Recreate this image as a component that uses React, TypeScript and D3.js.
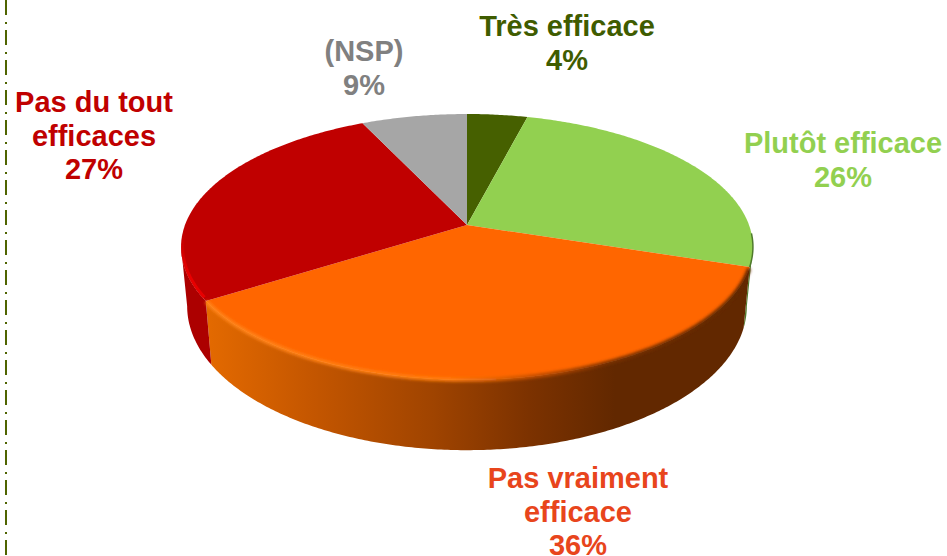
import React from "react";
import * as d3 from "d3";

const categories = ["Très efficace", "Plutôt efficace", "Pas vraiment efficace", "Pas du tout efficaces", "(NSP)"];
// printed labels; the NSP slice is drawn smaller than its printed 9%
const printedValues = [4, 26, 36, 27, 9];
const sliceValues = [4, 26, 36, 27, 7];
const labelLines = [["Très efficace"], ["Plutôt efficace"], ["Pas vraiment", "efficace"], ["Pas du tout", "efficaces"], ["(NSP)"]];
const faceColors = ["#466000", "#92d050", "#ff6600", "#c00000", "#a6a6a6"];
const wallColors = ["#2c3c00", "#4f7a2c", "url(#orangeWall)", "#ac0000", "#707070"];
const textColors = ["#3f5c00", "#92d050", "#e8451c", "#c00000", "#808080"];

const width = 947;
const height = 556;
const labelPos = [
  { x: 567, y: 36 },
  { x: 843, y: 153 },
  { x: 578, y: 488 },
  { x: 94, y: 112 },
  { x: 364, y: 61 },
];
const apex: [number, number] = [467, 225];

// perspective disc: far side squeezed, near side stretched
const persp = 0.165;
const makeProjection = (cx: number, cy: number, rx: number, ry: number) => (angle: number): [number, number] => {
  const u = Math.sin(angle);
  const v = -Math.cos(angle);
  const w = 1 - persp * v;
  return [cx + (rx * u) / w, cy + (ry * v) / w];
};
const topDisc = makeProjection(apex[0], apex[1], 282, 129.3);
const bottomDisc = makeProjection(467, 282.5, 276, 140);

// angles where the disc is widest, the wall is only seen between them
const silhouette = Math.acos(-persp);
const frontStart = silhouette;
const frontEnd = 2 * Math.PI - silhouette;

const arcAngles = (a0: number, a1: number) => {
  const n = Math.max(2, Math.ceil((a1 - a0) / 0.01));
  return d3.range(n + 1).map((i) => a0 + ((a1 - a0) * i) / n);
};

const line = d3.line();
const pie = d3.pie<number>().sort(null).value((d) => d);
const slices = pie(sliceValues);

const App = () => {
  const orange = slices[2];
  const red = slices[3];
  const green = slices[1];
  return (
    <svg width={width} height={height} style={{ position: "absolute", left: 0, top: 0, background: "#fff" }}>
      <defs>
        <linearGradient id="orangeWall" gradientUnits="userSpaceOnUse" x1={205} x2={745} y1={0} y2={0}>
          <stop offset="0" stopColor="#e46a00" />
          <stop offset="0.2" stopColor="#c45600" />
          <stop offset="0.42" stopColor="#a04400" />
          <stop offset="0.6" stopColor="#7c3200" />
          <stop offset="0.76" stopColor="#622800" />
          <stop offset="1" stopColor="#622800" />
        </linearGradient>
        <linearGradient id="orangeRim" gradientUnits="userSpaceOnUse" x1={205} x2={745} y1={0} y2={0}>
          <stop offset="0" stopColor="#ff8418" />
          <stop offset="0.45" stopColor="#ff7e10" />
          <stop offset="0.6" stopColor="#c85000" />
          <stop offset="0.75" stopColor="#7a3000" />
          <stop offset="1" stopColor="#622800" />
        </linearGradient>
        <linearGradient id="redRim" gradientUnits="userSpaceOnUse" x1={0} x2={0} y1={232} y2={275}>
          <stop offset="0" stopColor="#e80000" stopOpacity={0} />
          <stop offset="1" stopColor="#e80000" />
        </linearGradient>
        <filter id="soft" x="-5%" y="-20%" width="110%" height="140%">
          <feGaussianBlur stdDeviation="1.6" />
        </filter>
        <filter id="edge" x="-20%" y="-5%" width="140%" height="110%">
          <feGaussianBlur stdDeviation="0.6" />
        </filter>
        <clipPath id="faceClip">
          <path d={line(arcAngles(0, 2 * Math.PI).map(topDisc)) + "Z"} />
        </clipPath>
      </defs>

      <line x1={6} x2={6} y1={0} y2={height} stroke="#4f6400" strokeWidth={2} strokeDasharray="15 7 2 6" />

      {slices.map((s, i) => {
        const a0 = Math.max(s.startAngle, frontStart);
        const a1 = Math.min(s.endAngle, frontEnd);
        if (a1 <= a0) return null;
        const angles = arcAngles(a0, a1);
        const pts = [...angles.map(topDisc), ...angles.slice().reverse().map(bottomDisc)];
        return <path key={i} d={line(pts) + "Z"} fill={wallColors[i]} />;
      })}

      {slices.map((s, i) => {
        const pts = [apex, ...arcAngles(s.startAngle, s.endAngle).map(topDisc)];
        return <path key={i} d={line(pts) + "Z"} fill={faceColors[i]} />;
      })}

      {/* bevel along the front rim */}
      <path
        d={line(arcAngles(orange.startAngle + 0.01, orange.endAngle - 0.005).map(topDisc)) as string}
        fill="none"
        stroke="url(#orangeRim)"
        strokeWidth={4}
        filter="url(#soft)"
      />
      <g clipPath="url(#faceClip)">
        <path
          d={line(arcAngles(red.startAngle + 0.02, red.startAngle + 0.5).map(topDisc)) as string}
          fill="none"
          stroke="url(#redRim)"
          strokeWidth={6}
          filter="url(#edge)"
        />
      </g>
      <path
        d={line(arcAngles(green.endAngle - 0.25, green.endAngle).map(topDisc)) as string}
        fill="none"
        stroke="#4f7a2c"
        strokeWidth={1.5}
        filter="url(#edge)"
      />

      {categories.map((c, i) => (
        <text
          key={c}
          textAnchor="middle"
          fontFamily="'Liberation Sans', Arial, sans-serif"
          fontWeight="bold"
          fontSize={29}
          fill={textColors[i]}
        >
          {[...labelLines[i], `${printedValues[i]}%`].map((t, j) => (
            <tspan key={j} x={labelPos[i].x} y={labelPos[i].y + j * 33.5}>
              {t}
            </tspan>
          ))}
        </text>
      ))}
    </svg>
  );
};

export default App;
